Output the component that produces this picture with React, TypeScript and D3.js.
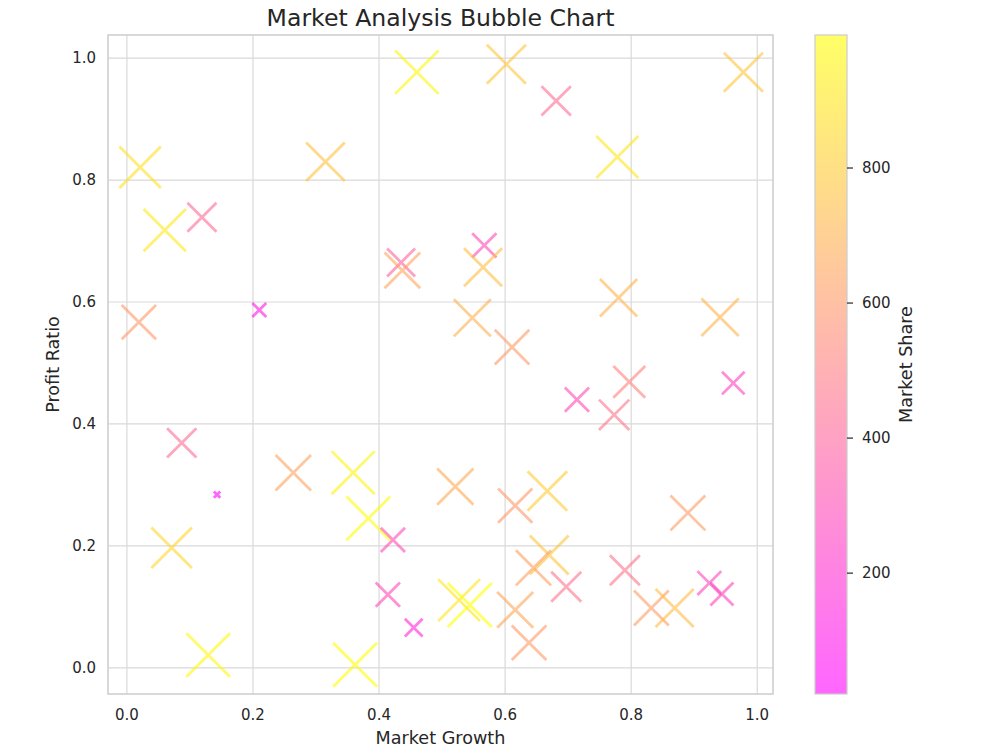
import React from 'react';
import * as d3 from 'd3';

// market growth, profit ratio and market share per product
const marketGrowth = [
  0.46, 0.602, 0.681, 0.978, 0.021, 0.315, 0.778, 0.06, 0.119, 0.435,
  0.437, 0.567, 0.565, 0.019, 0.21, 0.548, 0.611, 0.78, 0.941, 0.714,
  0.797, 0.773, 0.962, 0.087, 0.143, 0.071, 0.264, 0.359, 0.383, 0.422,
  0.414, 0.455, 0.129, 0.362, 0.521, 0.616, 0.667, 0.89, 0.67, 0.645,
  0.697, 0.79, 0.527, 0.544, 0.616, 0.638, 0.832, 0.869, 0.924, 0.944,
];
const profitRatio = [
  0.977, 0.99, 0.93, 0.977, 0.821, 0.83, 0.838, 0.718, 0.739, 0.665,
  0.652, 0.693, 0.657, 0.567, 0.587, 0.574, 0.526, 0.607, 0.575, 0.44,
  0.469, 0.415, 0.467, 0.369, 0.284, 0.197, 0.32, 0.32, 0.245, 0.21,
  0.12, 0.066, 0.021, 0.005, 0.297, 0.266, 0.29, 0.254, 0.185, 0.164,
  0.133, 0.16, 0.111, 0.103, 0.095, 0.041, 0.098, 0.098, 0.139, 0.121,
];
const marketShare = [
  960, 780, 440, 780, 880, 760, 900, 910, 430, 400,
  650, 300, 740, 600, 100, 700, 610, 710, 710, 300,
  520, 470, 260, 440, 21, 840, 640, 950, 980, 300,
  300, 160, 970, 990, 670, 600, 800, 620, 770, 630,
  460, 460, 900, 997, 660, 610, 620, 740, 290, 270,
];
const axisTicks = [0, 0.2, 0.4, 0.6, 0.8, 1.0];
const shareTicks = [200, 400, 600, 800];

const W = 1000;
const H = 750;
const plot = { left: 108, right: 773, top: 35, bottom: 694 };
const bar = { left: 815, right: 847 };
const ink = '#262626';
const gridColor = '#d9d9d9';
const font = 'DejaVu Sans, sans-serif';

const App: React.FC = () => {
  const x = d3.scaleLinear().domain([-0.03, 1.025]).range([plot.left, plot.right]);
  const y = d3.scaleLinear().domain([-0.043, 1.038]).range([plot.bottom, plot.top]);

  const [minS, maxS] = d3.extent(marketShare) as [number, number];
  const color = d3.scaleSequential(d3.interpolateRgb('#ff00ff', '#ffff00')).domain([minS, maxS]);
  const cb = d3.scaleLinear().domain([minS, maxS]).range([plot.bottom, plot.top]);

  const points = marketGrowth.map((g, i) => ({ g, p: profitRatio[i], s: marketShare[i] }));

  return (
    <svg width={W} height={H} style={{ position: 'absolute', left: 0, top: 0 }} fontFamily={font}>
      <defs>
        <linearGradient id="spring" x1="0" y1="1" x2="0" y2="0">
          <stop offset="0" stopColor="#ff00ff" stopOpacity={0.6} />
          <stop offset="1" stopColor="#ffff00" stopOpacity={0.6} />
        </linearGradient>
        <clipPath id="plotClip">
          <rect x={plot.left} y={plot.top} width={plot.right - plot.left} height={plot.bottom - plot.top} />
        </clipPath>
      </defs>
      <rect width={W} height={H} fill="white" />

      {/* grid */}
      {axisTicks.map(t => (
        <line key={'gx' + t} x1={x(t)} x2={x(t)} y1={plot.top} y2={plot.bottom} stroke={gridColor} strokeWidth={1.2} />
      ))}
      {axisTicks.map(t => (
        <line key={'gy' + t} x1={plot.left} x2={plot.right} y1={y(t)} y2={y(t)} stroke={gridColor} strokeWidth={1.2} />
      ))}

      {/* markers */}
      <g clipPath="url(#plotClip)">
        {points.map((d, i) => {
          const a = (Math.sqrt(d.s) * 1.4) / 2;
          return (
            <path
              key={i}
              transform={`translate(${x(d.g)},${y(d.p)})`}
              d={`M${-a},${-a}L${a},${a}M${-a},${a}L${a},${-a}`}
              fill="none"
              stroke={color(d.s)}
              strokeOpacity={0.6}
              strokeWidth={2.8}
            />
          );
        })}
      </g>

      <rect x={plot.left} y={plot.top} width={plot.right - plot.left} height={plot.bottom - plot.top}
        fill="none" stroke="#cccccc" strokeWidth={1.5} />

      {/* tick labels */}
      {axisTicks.map(t => (
        <text key={'tx' + t} x={x(t)} y={720} textAnchor="middle" fontSize={15} fill={ink}>{t.toFixed(1)}</text>
      ))}
      {axisTicks.map(t => (
        <text key={'ty' + t} x={96} y={y(t)} dy="0.35em" textAnchor="end" fontSize={15} fill={ink}>{t.toFixed(1)}</text>
      ))}

      <text x={(plot.left + plot.right) / 2} y={744} textAnchor="middle" fontSize={17.6} fill={ink}>Market Growth</text>
      <text transform={`translate(59,${(plot.top + plot.bottom) / 2}) rotate(-90)`} textAnchor="middle" fontSize={17.6} fill={ink}>Profit Ratio</text>
      <text x={(plot.left + plot.right) / 2} y={26} textAnchor="middle" fontSize={23.6} fill={ink}>Market Analysis Bubble Chart</text>

      {/* colour bar */}
      <rect x={bar.left} y={plot.top} width={bar.right - bar.left} height={plot.bottom - plot.top} fill="url(#spring)" stroke="#cccccc" strokeWidth={1.2} />
      {shareTicks.map(t => (
        <g key={'cb' + t} transform={`translate(${bar.right},${cb(t)})`}>
          <line x1={0} x2={6} stroke={ink} strokeWidth={1.2} />
          <text x={15} dy="0.35em" fontSize={15} fill={ink}>{t}</text>
        </g>
      ))}
      <text transform={`translate(912,${(plot.top + plot.bottom) / 2}) rotate(-90)`} textAnchor="middle" fontSize={17.6} fill={ink}>Market Share</text>
    </svg>
  );
};

export default App;
